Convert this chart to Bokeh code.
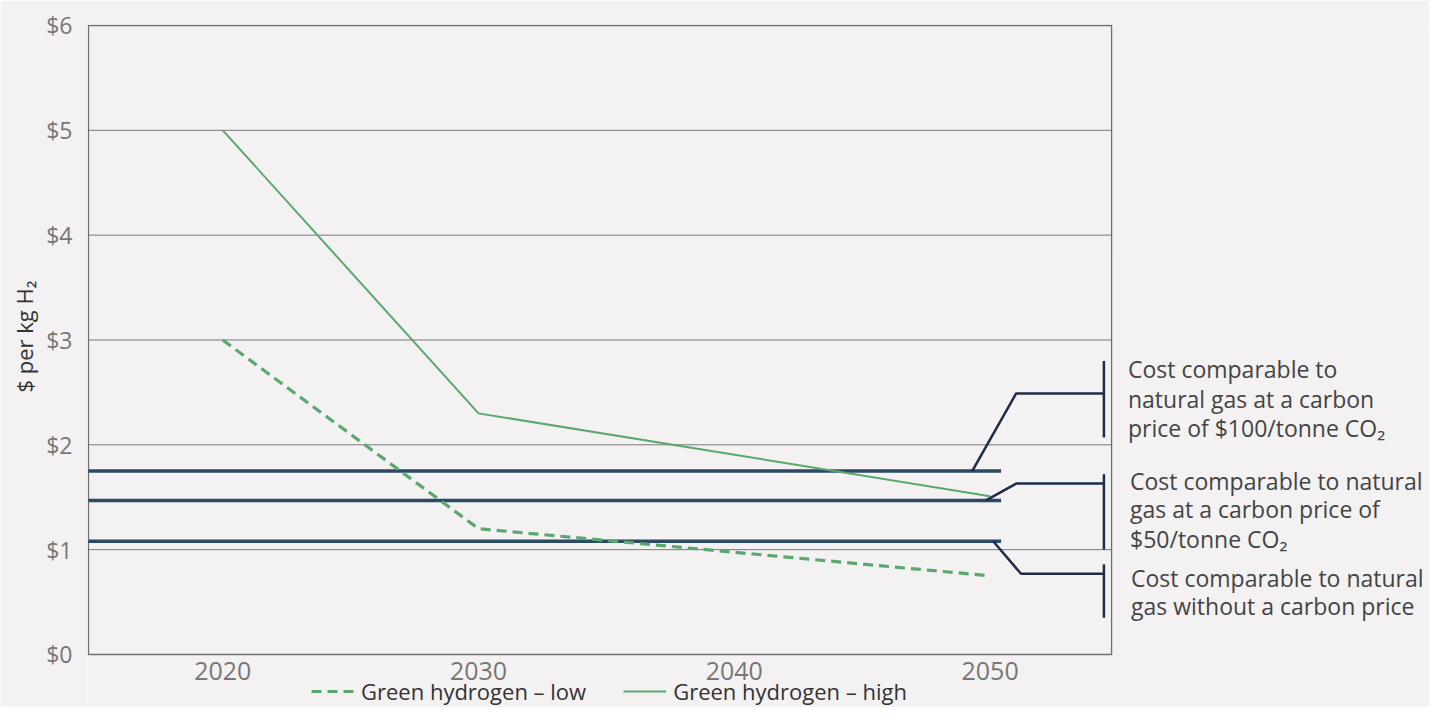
from bokeh.plotting import figure
from bokeh.models import Legend, LegendItem, FixedTicker, PrintfTickFormatter, Title
from bokeh.core.properties import value
from bokeh.embed import file_html
from bokeh.resources import INLINE

# ---- data ----
years = [2020, 2030, 2050]
green_low = [3.0, 1.20, 0.75]
green_high = [5.0, 2.30, 1.51]

gas_levels = [1.08, 1.47, 1.75]          # natural gas: no carbon price, $50, $100
gas_x_end = 2050.43

# connectors from benchmark lines to brackets
conn_xs = [[2049.30, 2051.02, 2054.45], [2049.84, 2051.02, 2054.45], [2050.12, 2051.21, 2054.45]]
conn_ys = [[1.75, 2.49, 2.49], [1.47, 1.63, 1.63], [1.08, 0.77, 0.77]]
bracket_x = [2054.45, 2054.45, 2054.45]
bracket_y0 = [2.07, 1.00, 0.35]
bracket_y1 = [2.80, 1.72, 0.86]

note_text = ["Cost comparable to", "natural gas at a carbon", "price of $100/tonne CO\u2082",
             "Cost comparable to natural", "gas at a carbon price of", "$50/tonne CO\u2082",
             "Cost comparable to natural", "gas without a carbon price"]
note_x = [2055.39, 2055.39, 2055.39, 2055.47, 2055.47, 2055.47, 2055.51, 2055.51]
note_y = [2.719, 2.433, 2.156, 1.659, 1.383, 1.106, 0.734, 0.467]

x_ticks = [2020, 2030, 2040, 2050]
x_tick_labels = ["2020", "2030", "2040", "2050"]
y_ticks = [0, 1, 2, 3, 4, 5, 6]
grid_levels = [1, 2, 3, 4, 5]
y_title = "$ per kg H\u2082"

X0, X1 = 2014.75, 2054.75     # visible plot box
FONT = "Open Sans"
GREEN = "#5aa870"
BG = "#f3f1f2"

p = figure(frame_width=1342, frame_height=683,
           x_range=(2014.711, 2067.18), y_range=(-0.5058, 6.0095),
           output_backend="svg", toolbar_location=None, x_axis_location=None,
           min_border_left=87, min_border_top=24, min_border_right=0, min_border_bottom=0,
           background_fill_color=BG, border_fill_color=BG)

p.outline_line_color = None
p.xgrid.grid_line_color = None
p.ygrid.grid_line_color = None

ax = p.yaxis[0]
ax.ticker = FixedTicker(ticks=y_ticks)
ax.formatter = PrintfTickFormatter(format="$%d")
ax.axis_line_color = None
ax.major_tick_line_color = None
ax.minor_tick_line_color = None
ax.major_tick_out = 0
ax.major_tick_in = 0
ax.major_label_text_font = FONT
ax.major_label_text_font_size = "23px"
ax.major_label_text_color = "#777777"
ax.major_label_standoff = 15

p.add_layout(Title(text=y_title, align="left", offset=315, standoff=10,
                   text_font=FONT, text_font_size="22px", text_font_style="normal",
                   text_color="#333333"), "left")

# grid lines and plot box
p.segment(x0=[X0] * len(grid_levels), y0=grid_levels, x1=[X1] * len(grid_levels), y1=grid_levels,
          line_color="#7a7a7a", line_width=1)
p.quad(left=[X0], right=[X1], bottom=[0], top=[6], fill_color=None,
       line_color="#6f6f6f", line_width=1.3)

# x tick labels
p.text(x=x_ticks, y=[-0.155] * len(x_ticks), text=x_tick_labels, text_font=value(FONT),
       text_font_size="25px", text_color="#777777", text_align="center", text_baseline="middle")

# benchmark lines
p.segment(x0=[X0] * 3, y0=gas_levels, x1=[gas_x_end] * 3, y1=gas_levels,
          line_color="#2b4a64", line_width=3.5)

# series
r_low = p.line(years, green_low, line_color=GREEN, line_width=3.2, line_dash="10 6")
r_high = p.line(years, green_high, line_color=GREEN, line_width=2)

# connectors & brackets
p.multi_line(conn_xs, conn_ys, line_color="#1f2c47", line_width=2.5)
p.segment(x0=bracket_x, y0=bracket_y0, x1=bracket_x, y1=bracket_y1,
          line_color="#1f2c47", line_width=2.5)

# notes
p.text(x=note_x, y=note_y, text=note_text, text_font=value(FONT), text_font_size="23px",
       text_color="#444444", text_baseline="middle", text_align="left")

legend = Legend(items=[LegendItem(label="Green hydrogen \u2013 low", renderers=[r_low]),
                       LegendItem(label="Green hydrogen \u2013 high", renderers=[r_high])],
                orientation="horizontal", location=(224, 1),
                background_fill_alpha=0, border_line_color=None,
                padding=0, margin=0, spacing=37, glyph_width=43, label_standoff=7,
                label_text_font=FONT, label_text_font_size="22px", label_text_color="#333333")
p.add_layout(legend, "center")

open("out.html", "w").write(file_html(p, INLINE))
